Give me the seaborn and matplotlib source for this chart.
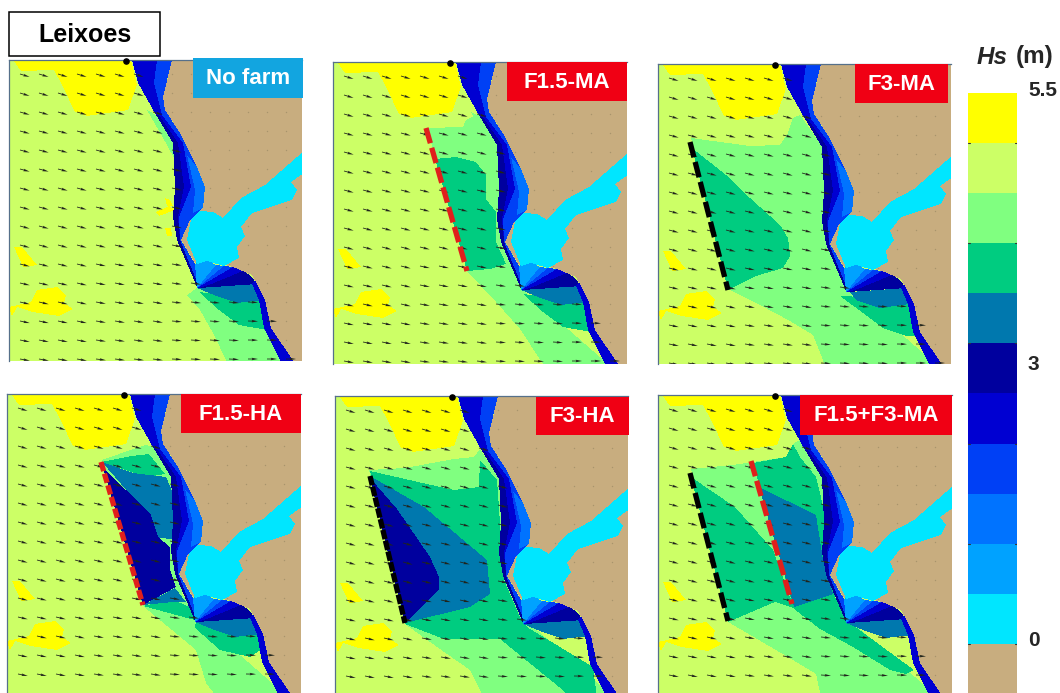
import numpy as np
import matplotlib
matplotlib.use("Agg")
import matplotlib.pyplot as plt
from matplotlib.colors import ListedColormap
from matplotlib.patches import Rectangle
from matplotlib.path import Path
import seaborn as sns

sns.set_style("white")
plt.rcParams['font.family'] = ['Liberation Sans', 'DejaVu Sans']

W, H = 1060, 693
# Hs classes, land first, then rising wave height
level_colors = ['#C8AD7F', '#00E6FF', '#00A2FF', '#0073FF', '#0040F5', '#0000D2', '#00009E',
                '#0078AE', '#00CC80', '#80FF80', '#CCFF66', '#FFFF00']
LAND, CYAN, B2, B3, B4, B5, NAVY, TEAL, SEA, GREEN, LIME, YEL = range(12)

# --- shared map regions (u across, v down the map) ---
yellow_north = [(4,0),(12,11),(45,10),(54,27),(66,52),(78,56),(119,50),(128,25),(122,0)]
yellow_sw = [(22,242),(28,230),(48,227),(57,235),(55,243),(64,249),(50,256),(24,252),(8,247),(3,256),(0,247)]
yellow_w = [(5,187),(13,187),(28,205),(14,207)]
yellow_bits = [[(147,152),(160,146),(166,150),(150,156)],
               [(156,138),(161,140),(164,146),(158,146)],
               [(156,168),(162,168),(163,176),(158,176)]]
coast_band = [(123,0),(129,23),(147,55),(164,83),(166,127),(164,157),(168,180),(188,227),(190,228),
              (186,204),(172,180),(181,160),(194,148),(196,127),(188,107),(171,73),(156,50),(154,37),(163,0)]
coast_outer = [(178,95),(188,107),(196,127),(194,148),(184,153),(186,130)]
coast_strip = [(123,0),(129,23),(147,55),(164,83),(166,127),(164,157),(168,180),(188,227),
               (190,227),(171,180),(170,157),(182,127),(174,83),(153,55),(145,23),(148,0)]
coast_navy = [(147,55),(164,83),(166,127),(164,157),(168,180),(188,227),(190,227),(171,180),(169,157),(175,127),(169,83),(150,55)]
coast_green = [(138,50),(147,55),(164,83),(166,100),(158,85)]
land = [(163,0),(154,37),(156,50),(171,73),(188,107),(196,127),(194,148),(181,160),(172,180),(186,203),
        (198,200),(224,207),(243,215),(256,240),(262,268),(285,302),(300,302),(300,0)]
south_strip = [(246,220),(256,240),(262,268),(285,302),(272,302),(255,268),(250,240),(243,224)]
harbor = [(182,160),(191,151),(204,152),(214,158),(232,138),(256,125),(296,90),(296,112),(282,122),
          (288,130),(283,140),(243,153),(232,167),(236,176),(228,187),(230,198),(215,206),(198,201),
          (188,204),(178,180)]
fan = [(B2,[(188,228),(186,204),(198,200),(207,205)]),
       (B3,[(188,228),(207,205),(215,206)]),
       (B4,[(188,228),(215,206),(224,207)]),
       (B5,[(188,228),(224,207),(234,211),(200,227)]),
       (NAVY,[(190,228),(200,225),(234,211),(241,215),(248,224)])]

south_teal = [(188,228),(248,224),(254,240),(228,243),(205,235)]
south_sea = [(190,232),(255,240),(258,270),(230,265),(210,250)]
south_green = [(178,235),(188,228),(254,232),(275,302),(218,302),(204,273),(191,250)]

# --- wake regions of each case ---
wake_none = [(GREEN,south_green),(SEA,south_sea),(TEAL,south_teal)]
wake_f15ma = [
    (GREEN,[(94,66),(130,65),(133,58),(145,52),(170,90),(170,160),(190,228),(275,302),(210,302),(187,267),(163,240),(134,209)]),
    (SEA,[(102,97),(123,95),(143,100),(153,113),(153,137),(163,150),(163,180),(173,202),(157,207),(134,209)]),
    (SEA,south_sea),(TEAL,south_teal)]
wake_f3ma = [
    (GREEN,[(33,74),(92,82),(122,81),(130,69),(135,54),(142,51),(170,90),(175,180),(195,228),(280,302),(167,302),(163,291),(155,271),(132,257),(102,241),(70,225)]),
    (SEA,[(34,84),(68,111),(92,134),(122,161),(130,174),(132,192),(125,204),(98,212),(70,226)]),
    (SEA,[(182,232),(255,235),(260,272),(248,272),(225,264),(205,249)]),
    (TEAL,[(192,228),(248,224),(252,240),(222,244),(198,236)])]
wake_f15ha = [
    (GREEN,[(95,66),(129,54),(139,51),(146,53),(170,90),(175,200),(195,228),(280,302),(209,302),(199,289),(189,256),(136,212)]),
    (SEA,[(95,68),(125,62),(142,60),(158,80),(140,83)]),
    (SEA,[(136,212),(166,206),(183,213),(189,226),(188,234),(213,256),(243,263),(258,253),(250,225),(195,228)]),
    (TEAL,[(95,68),(126,79),(159,83),(166,99),(170,146),(149,143),(139,119)]),
    (TEAL,[(136,211),(168,194),(179,208),(166,208)]),
    (TEAL,south_teal),
    (NAVY,[(96,74),(143,119),(151,143),(163,153),(163,176),(169,193),(136,211)])]
wake_f3ha = [
    (GREEN,[(34,74),(70,72),(119,63),(139,61),(145,53),(170,90),(175,200),(195,228),(280,302),(149,302),(135,274),(102,251),(70,228)]),
    (SEA,[(35,75),(92,88),(119,94),(144,91),(145,64),(162,84),(169,184),(185,221),(192,231),(258,271),(262,302),(234,302),(229,295),(165,243),(109,243),(70,228)]),
    (TEAL,[(35,80),(89,111),(152,164),(155,198),(135,211),(70,227)]),
    (TEAL,south_teal),
    (NAVY,[(35,82),(62,113),(95,161),(104,181),(104,193),(70,227)])]
wake_both = [
    (GREEN,[(33,74),(75,70),(95,67),(128,62),(135,49),(143,44),(170,90),(175,200),(195,228),(280,302),(163,302),(158,279),(135,265),(70,227)]),
    (SEA,[(33,82),(77,112),(115,155),(136,213),(117,207),(70,227)]),
    (SEA,[(95,68),(128,62),(135,49),(142,62),(158,82),(167,119),(165,165),(177,202),(188,225),(256,275),(248,279),(232,275),(195,252),(162,234),(136,214)]),
    (TEAL,[(101,92),(158,120),(165,165),(175,199),(136,212)]),
    (TEAL,south_teal)]

# --- panels ---
panel_names = ['No farm','F1.5-MA','F3-MA','F1.5-HA','F3-HA','F1.5+F3-MA']
panel_wakes = [wake_none,wake_f15ma,wake_f3ma,wake_f15ha,wake_f3ha,wake_both]
panel_boxes = [(9,60,302,361),(333,62,627,364),(658,64,951,364),(7,394,301,693),(335,396,628,693),(658,395,952,693)]
label_boxes = [(193,58,303,98),(507,62,627,101),(855,64,948,103),(181,394,301,433),(536,397,629,435),(800,395,952,435)]
label_colors = ['#12A5E0','#F00014','#F00014','#F00014','#F00014','#F00014']

red, black = '#E0201C', '#000000'
farm_red_ma = ([93,134],[66,209])
farm_black_ma = ([32,70],[78,226])
farm_red_ha = ([94,136],[68,211])
farm_black_ha = ([35,70],[80,227])
panel_farms = [[],[(farm_red_ma,red,(3.0,0.9))],[(farm_black_ma,black,(3.0,0.9))],
               [(farm_red_ha,red,(1.8,0.5))],[(farm_black_ha,black,(1.8,0.3))],
               [(farm_black_ma,black,(3.0,0.9)),(farm_red_ma,red,(3.0,0.9))]]

# wave direction in degrees below horizontal: rows down the map, zones across it
arrow_rows = [14,33,52,71,90,109,128,147,166,185,204,223,242,261,280,299]
arrow_cols = [11,30,49,68,87,106,125,144,163,182,201,220,239,258,277]
wave_angle = [[17,17,17,17],[17,17,17,17],[16,16,15,15],[15,15,15,14],[15,15,14,14],[15,15,14,13],
              [15,14,13,12],[15,14,13,12],[15,14,12,10],[15,14,11,8],[14,12,9,6],[13,11,8,5],
              [13,10,6,3],[12,9,5,2],[11,8,4,1],[10,7,3,0]]
colorbar_levels = [11,10,9,8,7,6,5,4,3,2,1,0]
colorbar_ticks = ['5.5','3','0']


def paint(field, uu, vv, poly, level):
    p = Path(np.array(poly, float))
    pts = np.column_stack([uu.ravel(), vv.ravel()])
    field[p.contains_points(pts).reshape(field.shape)] = level


def px_axes(x0, y0, x1, y1, **kw):
    return fig.add_axes([x0/W, 1-y1/H, (x1-x0)/W, (y1-y0)/H], **kw)


fig = plt.figure(figsize=(W/100, H/100), dpi=100, facecolor='white')
cmap = ListedColormap(level_colors)

for name, wakes, box, farms in zip(panel_names, panel_wakes, panel_boxes, panel_farms):
    x0, y0, x1, y1 = box
    w, h = x1-x0, y1-y0
    uu, vv = np.meshgrid(np.arange(w)+.5, np.arange(h)+.5)
    field = np.full((h, w), LIME)
    for poly in [yellow_north, yellow_sw, yellow_w] + yellow_bits:
        paint(field, uu, vv, poly, YEL)
    for level, poly in wakes:
        paint(field, uu, vv, poly, level)
    if name in ('No farm', 'F1.5-MA'):
        paint(field, uu, vv, coast_green, GREEN)
    sea = field.copy()
    paint(sea, uu, vv, coast_band, LAND)
    paint(sea, uu, vv, land, LAND)
    paint(sea, uu, vv, harbor, LAND)
    paint(field, uu, vv, coast_band, B4)
    paint(field, uu, vv, coast_outer, B3)
    paint(field, uu, vv, coast_strip, B5)
    paint(field, uu, vv, coast_navy, NAVY)
    for level, poly in fan:
        paint(field, uu, vv, poly, level)
        paint(sea, uu, vv, poly, LAND)
    paint(field, uu, vv, land, LAND)
    paint(field, uu, vv, south_strip, B5)
    paint(field, uu, vv, harbor, CYAN)

    ax = px_axes(x0, y0, x1, y1)
    sns.heatmap(field, ax=ax, cmap=cmap, vmin=-.5, vmax=11.5, cbar=False,
                xticklabels=False, yticklabels=False)
    ax.tick_params(left=False, bottom=False)
    for side in ('left', 'top'):
        ax.spines[side].set_visible(True)
        ax.spines[side].set_color('#56708A')
        ax.spines[side].set_linewidth(0.9)

    au, av, du, dv, lu, lv = [], [], [], [], [], []
    for r, v in enumerate(arrow_rows):
        for c, u in enumerate(arrow_cols):
            if v >= h or u >= w:
                continue
            if sea[v, u] == LAND:
                if field[v, u] == LAND:
                    lu.append(u); lv.append(v)
                continue
            a = np.deg2rad(wave_angle[r][min(u//75, 3)])
            au.append(u); av.append(v)
            du.append(10*np.cos(a)); dv.append(10*np.sin(a))
    ax.quiver(au, av, du, dv, angles='xy', scale_units='xy', scale=1, units='xy', width=0.8,
              headwidth=3.2, headlength=8, headaxislength=7, color='#20241C', pivot='tail')
    ax.scatter(lu, lv, s=1.0, color='#A8946C', linewidths=0)
    ax.scatter([117], [1], s=14, color='black', clip_on=False, zorder=5)
    for (fu, fv), col, dash in farms:
        ax.plot(fu, fv, color=col, lw=3.8, linestyle=(0, dash), dash_capstyle='butt')

# colour bar
cax = px_axes(968, 93, 1017, 694)
sns.heatmap(np.array(colorbar_levels).reshape(-1, 1), ax=cax, cmap=cmap, vmin=-.5, vmax=11.5,
            cbar=False, xticklabels=False, yticklabels=False)
cax.tick_params(left=False, bottom=False)
for k in (1, 3, 5, 7, 9, 11):
    cax.plot([0, .05], [k, k], color='#333333', lw=0.8)
    cax.plot([.95, 1], [k, k], color='#333333', lw=0.8)

# overlay in figure pixels for labels
ov = fig.add_axes([0, 0, 1, 1], zorder=10)
ov.set_xlim(0, W); ov.set_ylim(H, 0); ov.axis('off'); ov.patch.set_alpha(0)
for name, (a, b, c, d), col in zip(panel_names, label_boxes, label_colors):
    ov.add_patch(Rectangle((a, b), c-a, d-b, facecolor=col, edgecolor='none'))
    ov.text((a+c)/2, (b+d)/2+.5, name, color='white', fontweight='bold', fontsize=16,
            ha='center', va='center')
ov.add_patch(Rectangle((9, 12), 151, 44, facecolor='white', edgecolor='black', lw=1.1))
ov.text(84.5, 34.5, 'Leixoes', color='black', fontweight='bold', fontsize=18, ha='center', va='center')
ov.text(977, 57, 'Hs', fontweight='bold', fontstyle='italic', fontsize=17.5, ha='left', va='center')
ov.text(1016, 57, '(m)', fontweight='bold', fontsize=17.5, ha='left', va='center')
for t, y in zip(colorbar_ticks, [90, 365, 640]):
    ov.text(1028, y, t, fontweight='bold', fontsize=15, ha='left', va='center')

fig.savefig('out.png', dpi=100)
